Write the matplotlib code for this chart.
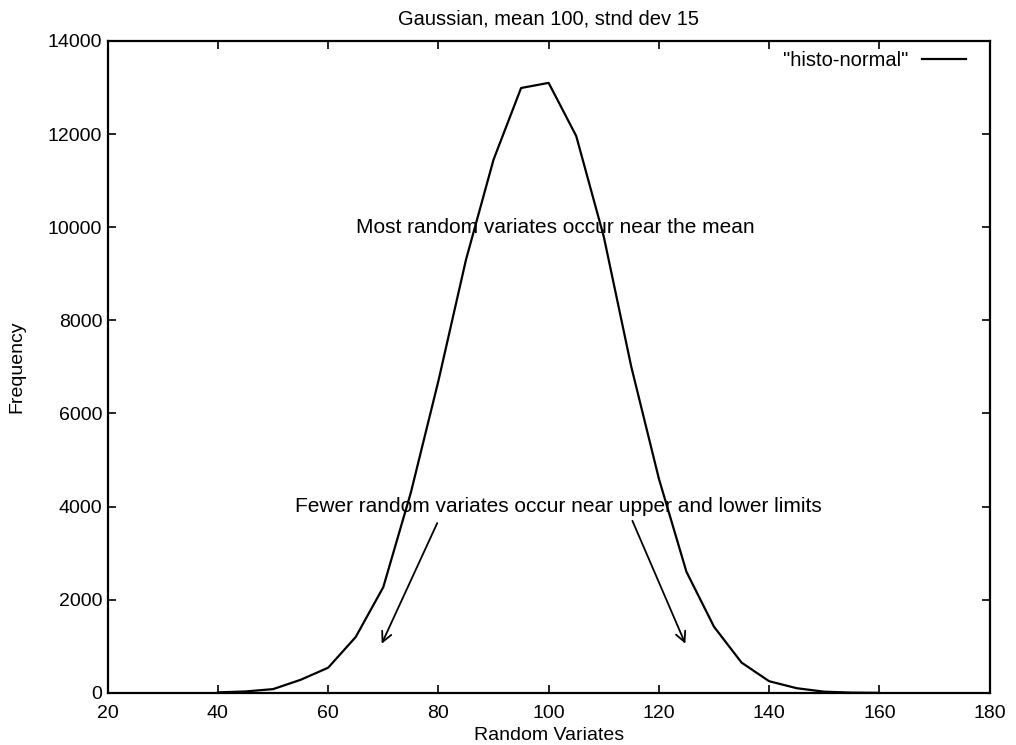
import matplotlib
matplotlib.use("Agg")
import matplotlib.pyplot as plt

# histogram of gaussian random variates (mean 100, sd 15)
bins = [40, 45, 50, 55, 60, 65, 70, 75, 80, 85, 90, 95, 100, 105, 110, 115, 120,
        125, 130, 135, 140, 145, 150, 155, 160]
freq = [10, 30, 80, 280, 540, 1200, 2270, 4300, 6700, 9300, 11450, 12990, 13100,
        11960, 9800, 7000, 4600, 2600, 1420, 650, 250, 100, 25, 5, 0]

x_ticks = list(range(20, 181, 20))
y_ticks = list(range(0, 14001, 2000))

plt.rcParams['font.family'] = ['Liberation Sans', 'DejaVu Sans']
plt.rcParams['font.size'] = 14

fig = plt.figure(figsize=(10.16, 7.45), dpi=100)
ax = fig.add_axes([0.106, 0.070, 0.868, 0.875])

ax.plot(bins, freq, color='black', linewidth=1.6, label='"histo-normal"')

ax.set_xlim(20, 180)
ax.set_ylim(0, 14000)
ax.set_xticks(x_ticks)
ax.set_yticks(y_ticks)
ax.tick_params(direction='in', top=True, right=True, length=6, width=1.2, pad=4)
ax.tick_params(axis='x', pad=9)
for s in ax.spines.values():
    s.set_linewidth(1.6)

ax.set_title('Gaussian, mean 100, stnd dev 15', fontsize=14.5, pad=12)
ax.set_xlabel('Random Variates')
ax.xaxis.set_label_coords(0.5, -0.053)
ax.set_ylabel('Frequency', labelpad=16)

# labels, gnuplot style (left aligned)
ax.text(65, 10000, 'Most random variates occur near the mean', ha='left', va='center', fontsize=15)
ax.text(54, 4000, 'Fewer random variates occur near upper and lower limits', ha='left', va='center', fontsize=15)

arrow = dict(arrowstyle='->', color='black', lw=1.3, mutation_scale=18)
ax.annotate('', xy=(69.5, 1000), xytext=(80, 3700), arrowprops=arrow)
ax.annotate('', xy=(125, 1000), xytext=(115, 3750), arrowprops=arrow)

leg = ax.legend(loc='upper right', bbox_to_anchor=(0.985, 1.0), frameon=False, markerfirst=False,
                handlelength=2.2, handletextpad=0.7, borderaxespad=0.1, fontsize=14.5)

fig.savefig('out.png', dpi=100)
